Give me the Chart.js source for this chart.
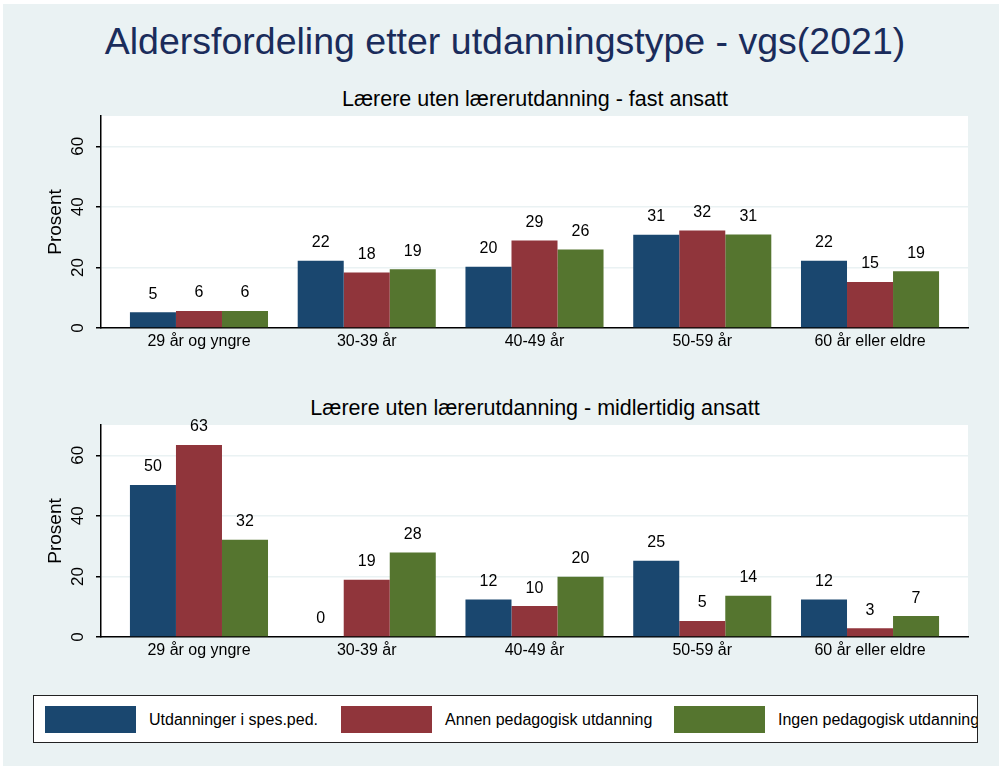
<!DOCTYPE html>
<html>
<head>
<meta charset="utf-8">
<script src="https://cdn.jsdelivr.net/npm/chart.js@4/dist/chart.umd.min.js"></script>
<style>
    body { margin: 0; background: #ffffff; font-family: "Liberation Sans", Arial, sans-serif; }
    #graph { position: absolute; left: 3px; top: 4px; width: 996px; height: 762px; background: #eaf2f3; }
    #title { position: absolute; left: 505px; top: 23px; transform: translateX(-50%); white-space: nowrap;
             font-size: 37.5px; line-height: 1; color: #1a2c5b; }
    .subtitle { position: absolute; left: 535px; transform: translateX(-50%); white-space: nowrap;
                font-size: 21.5px; line-height: 1; color: #000; }
    .panel { position: absolute; left: 0; width: 999px; height: 278px; }
    #legend { position: absolute; left: 33px; top: 695px; width: 943px; height: 46px; background: #fff;
              border: 1.5px solid #222; overflow: hidden; white-space: nowrap; }
    .item { position: absolute; top: 10px; height: 27px; }
    .swatch { position: absolute; left: 0; top: 0; width: 91px; height: 27px; }
    .label { position: absolute; left: 104px; top: 4px; font-size: 16px; line-height: 20px; color: #000; }
</style>
</head>
<body>
<div id="graph"></div>
<div id="title">Aldersfordeling etter utdanningstype - vgs(2021)</div>
<div class="subtitle" style="top:89px">Lærere uten lærerutdanning - fast ansatt</div>
<div class="panel" style="top:80px"><canvas id="chartFast"></canvas></div>
<div class="subtitle" style="top:398px">Lærere uten lærerutdanning - midlertidig ansatt</div>
<div class="panel" style="top:389px"><canvas id="chartMidl"></canvas></div>
<div id="legend"></div>

<script>
// data
const categories = ['29 år og yngre', '30-39 år', '40-49 år', '50-59 år', '60 år eller eldre'];
const seriesLabels = ['Utdanninger i spes.ped.', 'Annen pedagogisk utdanning', 'Ingen pedagogisk utdanning'];
const seriesColors = ['#1a476f', '#90353b', '#55752f'];
const yTicks = [0, 20, 40, 60];

// fast ansatt
const fastSpesped = [5.2, 22.2, 20.2, 30.8, 22.2];
const fastAnnen = [5.6, 18.3, 28.9, 32.2, 15.2];
const fastIngen = [5.6, 19.4, 25.9, 30.9, 18.7];

// midlertidig ansatt
const midlSpesped = [50.2, 0, 12.4, 25.2, 12.4];
const midlAnnen = [63.4, 18.9, 10.2, 5.3, 2.9];
const midlIngen = [32.1, 27.9, 19.9, 13.6, 6.9];

const font = "'Liberation Sans', Arial, sans-serif";

// white plot region like stata
const plotBackground = {
    id: 'plotBackground',
    beforeDraw(chart) {
        const { ctx, chartArea: a } = chart;
        ctx.save();
        ctx.fillStyle = '#fff';
        ctx.fillRect(a.left, a.top, a.right - a.left, a.bottom - a.top);
        ctx.restore();
    }
};

// values over the bars
const barLabels = {
    id: 'barLabels',
    afterDatasetsDraw(chart) {
        const ctx = chart.ctx;
        ctx.save();
        ctx.font = '16px ' + font;
        ctx.fillStyle = '#000';
        ctx.textAlign = 'center';
        ctx.textBaseline = 'middle';
        chart.data.datasets.forEach((ds, i) => {
            chart.getDatasetMeta(i).data.forEach((bar, j) => {
                ctx.fillText(Math.round(ds.data[j].y), bar.x, bar.y - 18);
            });
        });
        ctx.restore();
    }
};

function makeChart(id, values) {
    const ctx = document.getElementById(id).getContext('2d');
    return new Chart(ctx, {
        type: 'bar',
        data: {
            datasets: values.map((v, i) => ({
                label: seriesLabels[i],
                data: v.map((y, x) => ({ x, y })),
                backgroundColor: seriesColors[i],
                borderWidth: 0,
                categoryPercentage: 0.823,
                barPercentage: 1
            }))
        },
        options: {
            responsive: true,
            maintainAspectRatio: false,
            animation: false,
            layout: { padding: { left: 41, right: 31, top: 36, bottom: 0 } },
            plugins: {
                legend: { display: false },
                tooltip: { enabled: false }
            },
            scales: {
                x: {
                    type: 'linear',
                    offset: false,
                    min: -0.584,
                    max: 4.584,
                    afterBuildTicks: axis => { axis.ticks = categories.map((c, i) => ({ value: i })); },
                    afterFit: axis => { axis.height = 30; },
                    grid: { display: false, drawTicks: false, offset: false },
                    border: { display: true, color: '#000', width: 1.5 },
                    ticks: {
                        color: '#000',
                        padding: 4,
                        autoSkip: false,
                        maxRotation: 0,
                        font: { family: font, size: 16 },
                        callback: v => categories[v]
                    }
                },
                y: {
                    min: 0,
                    max: 70,
                    afterBuildTicks: axis => { axis.ticks = yTicks.map(v => ({ value: v })); },
                    afterFit: axis => { axis.width = 60; },
                    grid: { color: '#eaf2f3', lineWidth: 1.5, tickColor: '#000', tickLength: 5 },
                    border: { display: true, color: '#000', width: 1.5 },
                    ticks: {
                        color: '#000',
                        padding: 8,
                        minRotation: 90,
                        maxRotation: 90,
                        crossAlign: 'center',
                        font: { family: font, size: 17 }
                    },
                    title: {
                        display: true,
                        text: 'Prosent',
                        color: '#000',
                        font: { family: font, size: 19 },
                        padding: { top: 3, bottom: 0 }
                    }
                }
            }
        },
        plugins: [plotBackground, barLabels]
    });
}

makeChart('chartFast', [fastSpesped, fastAnnen, fastIngen]);
makeChart('chartMidl', [midlSpesped, midlAnnen, midlIngen]);

// legend built from the same series arrays
const legendBox = document.getElementById('legend');
const itemLeft = [11, 307, 640];
seriesLabels.forEach((name, i) => {
    const item = document.createElement('div');
    item.className = 'item';
    item.style.left = itemLeft[i] + 'px';
    item.innerHTML = `<div class="swatch" style="background:${seriesColors[i]}"></div><div class="label">${name}</div>`;
    legendBox.appendChild(item);
});
</script>
</body>
</html>
